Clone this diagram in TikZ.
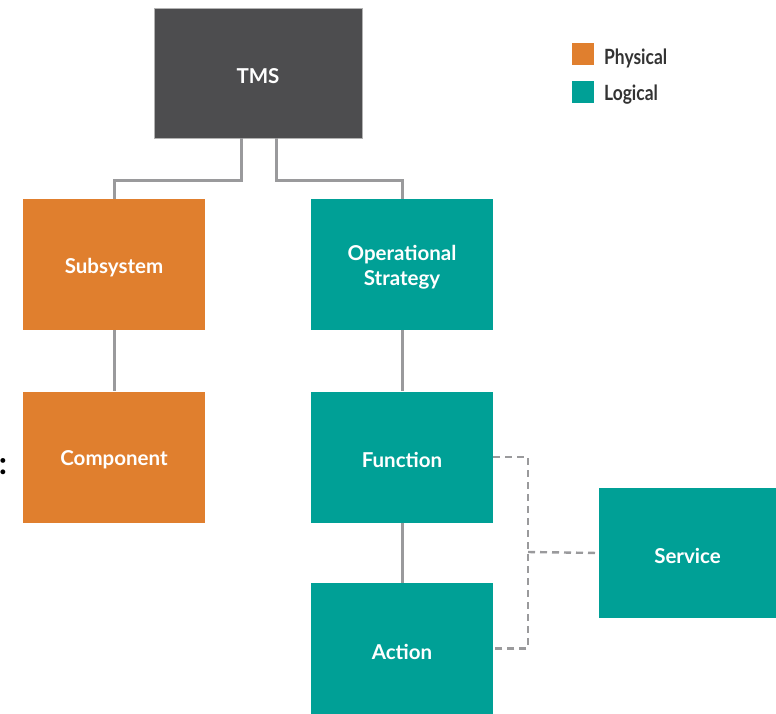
\documentclass[tikz,border=0pt]{standalone}
\usepackage{fontspec}
\setmainfont{Lato}[BoldFont={Lato Bold}]
\definecolor{tmsgray}{HTML}{4D4D4F}
\definecolor{phys}{HTML}{E07F2E}
\definecolor{logi}{HTML}{00A096}
\definecolor{conn}{HTML}{9A9A9C}
\tikzset{
  box/.style={rectangle, inner sep=0pt, minimum width=182pt, minimum height=131pt},
  lbl/.style={text=white, font=\bfseries\fontsize{20.5}{25}\selectfont, align=center, yshift=-3pt, inner sep=0pt},
  tmsbox/.style={box, fill=tmsgray, minimum width=208pt, minimum height=130pt, draw=black!30, line width=0.6pt},
  physbox/.style={box, fill=phys},
  logbox/.style={box, fill=logi},
  link/.style={draw=conn, line width=3pt},
  dlink/.style={draw=conn, line width=2.4pt, dash pattern=on 7pt off 5pt},
  legsq/.style={rectangle, inner sep=0pt, minimum size=22pt},
  legtxt/.style={anchor=west, font=\bfseries\fontsize{21}{24}\selectfont, text=black!80, inner sep=0pt, xscale=0.83}
}
\begin{document}
\begin{tikzpicture}[x=1pt,y=-1pt]
\useasboundingbox (0,0) rectangle (776,713);
\node[tmsbox, label={[lbl]center:TMS}] (tms) at (258,73) {};
\node[physbox, label={[lbl]center:Subsystem}] (sub) at (114,264.5) {};
\node[logbox, label={[lbl]center:Operational\\Strategy}] (ops) at (402,264.5) {};
\node[physbox, label={[lbl]center:Component}] (comp) at (114,457) {};
\node[logbox, label={[lbl]center:Function}] (fun) at (402,457) {};
\node[logbox, label={[lbl]center:Action}] (act) at (402,648.5) {};
\node[logbox, minimum width=177pt, minimum height=130pt, label={[lbl]center:Service}] (svc) at (687.5,553) {};
\node[legsq, fill=phys] (lp) at (582.5,54) {};
\node[legsq, fill=logi] (ll) at (582.5,92) {};
\node[legtxt] (lpt) at (604,58) {Physical};
\node[legtxt] (llt) at (604,95) {Logical};
\node[font=\bfseries\fontsize{32}{34}\selectfont, inner sep=0pt] (colon) at (3,467) {:};
\coordinate (tl) at ([xshift=-17pt]tms.south);
\coordinate (tr) at ([xshift=18pt]tms.south);
\coordinate (j) at (528,552);
\draw[link] (tl) -- (tl |- 0,180) -- (sub.north |- 0,180) -- (sub.north);
\draw[link] (tr) -- (tr |- 0,180) -- (ops.north |- 0,180) -- (ops.north);
\draw[link] (sub) -- (comp);
\draw[link] (ops) -- (fun);
\draw[link] (fun) -- (act);
\draw[dlink] (fun.east) -- (fun.east -| j) -- (act.east -| j) -- (act.east);
\draw[dlink] (j) -- (svc.west);
\end{tikzpicture}
\end{document}
